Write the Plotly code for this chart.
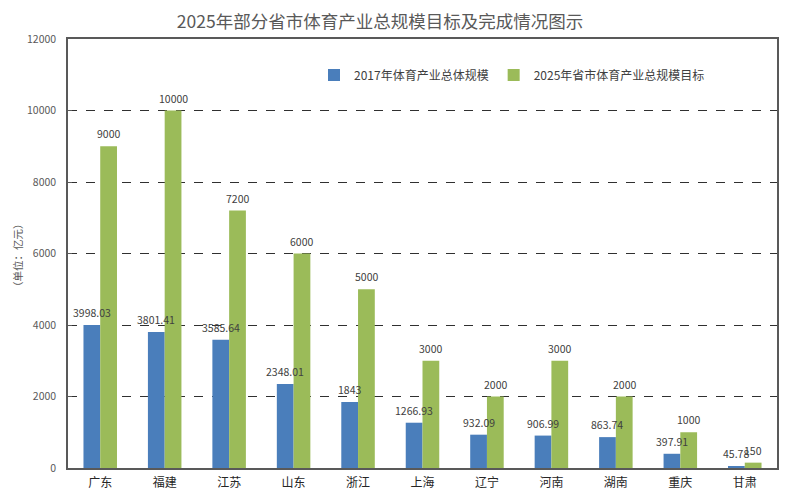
import plotly.graph_objects as go

categories = ["广东", "福建", "江苏", "山东", "浙江", "上海", "辽宁", "河南", "湖南", "重庆", "甘肃"]
scale_2017 = [3998.03, 3801.41, 3585.64, 2348.01, 1843, 1266.93, 932.09, 906.99, 863.74, 397.91, 45.78]
target_2025 = [9000, 10000, 7200, 6000, 5000, 3000, 2000, 3000, 2000, 1000, 150]
label_2017 = ["3998.03", "3801.41", "3585.64", "2348.01", "1843", "1266.93", "932.09", "906.99", "863.74", "397.91", "45.78"]
label_2025 = ["9000", "10000", "7200", "6000", "5000", "3000", "2000", "3000", "2000", "1000", "150"]
y_ticks = [0, 2000, 4000, 6000, 8000, 10000, 12000]
y_ticktext = ["0", "2000", "4000", "6000", "8000", "10000", "12000"]

FONT = "Noto Sans CJK SC"
OFF = 8                      # page body margin
W, H = 791 - OFF, 500 - OFF
L, R, T, B = 68 - OFF, 14, 39 - OFF, 32
PW, PH = W - L - R, H - T - B


def px_x(page_x):
    return (page_x - OFF - L) / PW


def px_y(page_y):
    return (H - B - (page_y - OFF)) / PH


BARGAP = 0.48
bar_w = PW / len(categories) * (1 - BARGAP) / 2

fig = go.Figure()
for name, vals, color in [
    ("2017年体育产业总体规模", scale_2017, "#4a7ebb"),
    ("2025年省市体育产业总规模目标", target_2025, "#9bbb59"),
]:
    fig.add_trace(go.Bar(
        x=categories, y=vals, name=name,
        marker=dict(color=color, line=dict(width=0)),
    ))

annotations = []
for vals, labels, shift in [(scale_2017, label_2017, -bar_w / 2), (target_2025, label_2025, bar_w / 2)]:
    for c, v, t in zip(categories, vals, labels):
        annotations.append(dict(x=c, y=v, text=t, xref="x", yref="y", showarrow=False,
                                xanchor="center", yanchor="bottom", xshift=shift, yshift=3,
                                font=dict(size=10.5, color="#404040", family=FONT)))

annotations.append(dict(text="（单位：亿元）", textangle=-90, xref="paper", yref="paper",
                        x=px_x(17), y=px_y(255), xanchor="center", yanchor="middle",
                        showarrow=False, font=dict(size=10.5, color="#595959", family=FONT)))

fig.update_layout(
    width=W, height=H,
    margin=dict(l=L, r=R, t=T, b=B, autoexpand=False),
    paper_bgcolor="white", plot_bgcolor="white",
    font=dict(family=FONT, color="#595959"),
    title=dict(text="2025年部分省市体育产业总规模目标及完成情况图示",
               x=(380 - OFF) / W, xanchor="center", y=1 - (21.5 - OFF) / H, yanchor="middle",
               xref="container", yref="container",
               font=dict(size=17.5, color="#595959", family=FONT)),
    barmode="group", bargap=BARGAP, bargroupgap=0,
    showlegend=True,
    legend=dict(orientation="h", x=px_x(314), y=px_y(75),
                xanchor="left", yanchor="middle",
                bgcolor="rgba(0,0,0,0)", font=dict(size=12, color="#404040", family=FONT),
                itemwidth=30, traceorder="normal"),
    xaxis=dict(showline=True, linecolor="#595959", linewidth=1.5, mirror=True, automargin=False,
               tickfont=dict(size=12, color="#262626", family=FONT), ticks="",
               ticklabelstandoff=3),
    yaxis=dict(range=[0, 12000], tickvals=y_ticks, ticktext=y_ticktext, showline=True,
               linecolor="#595959", linewidth=1.5, mirror=True, automargin=False,
               showgrid=True, gridcolor="#303030", griddash="dash", gridwidth=1,
               tickfont=dict(size=10.5, color="#595959", family=FONT),
               ticks="inside", ticklen=4, tickcolor="#595959", ticklabelstandoff=8),
    annotations=annotations,
)
fig.write_html("out.html")
